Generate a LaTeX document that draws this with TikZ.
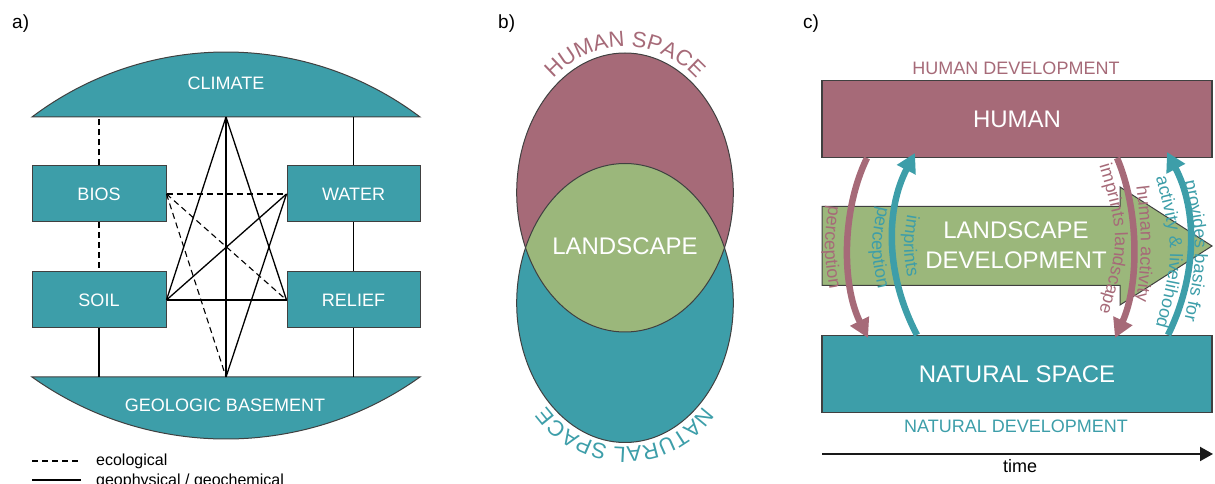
\documentclass[tikz,border=0pt]{standalone}
\usepackage{fontspec}
\setmainfont{Liberation Sans}
\usetikzlibrary{arrows.meta,decorations.text}
\definecolor{teal1}{RGB}{61,158,169}
\definecolor{mauve}{RGB}{166,106,120}
\definecolor{lgreen}{RGB}{155,183,123}
\definecolor{edge}{RGB}{64,64,64}
\newcommand\myfs[1]{\fontsize{#1}{#1}\selectfont}
\begin{document}
\begin{tikzpicture}[x=1pt,y=1pt,
  abox/.style={draw=edge, line width=1pt, fill=teal1, minimum width=134pt, minimum height=56pt, inner sep=0pt, text=white, font=\myfs{18}},
  wtext/.style={text=white, font=\myfs{18}, inner sep=0pt},
  geoline/.style={line width=1.3pt, black},
  ecoline/.style={line width=1.1pt, black, dash pattern=on 6pt off 4pt},
  bigbox/.style={draw=edge, line width=1.2pt, minimum width=390pt, minimum height=77pt, inner sep=0pt, text=white, font=\myfs{24}},
  plabel/.style={anchor=base west, inner sep=0pt, font=\myfs{19}},
  curvarrow/.style={line width=6.5pt, -{Triangle[width=20pt,length=19pt]}},
  ell/.style={x radius=108.3, y radius=139.5}
]
\useasboundingbox (0,0) rectangle (1215,484);
\clip (0,0) rectangle (1215,484);

% ---------- panel labels
\node[plabel] (la) at (12,455.5) {a)};
\node[plabel] (lb) at (498,455.5) {b)};
\node[plabel] (lc) at (803,455.5) {c)};

% ---------- panel a
\path[fill=teal1, draw=edge, line width=1pt] (32,367) arc[start angle=127.05, end angle=52.95, radius=322] -- cycle;
\node[wtext] (climate) at (226,401) {CLIMATE};
\coordinate (climB) at (226,367);
\path[fill=teal1, draw=edge, line width=1pt] (32,107) arc[start angle=234.55, end angle=305.45, radius=334.5] -- cycle;
\node[wtext] (geo) at (225,78.5) {GEOLOGIC BASEMENT};
\coordinate (geoT) at (226,107);

\node[abox] (bios) at (99,290) {BIOS};
\node[abox, minimum width=133pt] (water) at (353.5,290) {WATER};
\node[abox] (soil) at (99,184) {SOIL};
\node[abox, minimum width=133pt] (relief) at (353.5,184) {RELIEF};

\draw[ecoline] (bios.north) -- (bios.north |- climB);
\draw[ecoline] (bios.south) -- (soil.north);
\draw[geoline] (soil.south) -- (soil.south |- geoT);
\draw[geoline] (water.north) -- (water.north |- climB);
\draw[geoline] (water.south) -- (relief.north);
\draw[geoline] (relief.south) -- (relief.south |- geoT);

\draw[geoline] (climB) -- (geoT);
\draw[geoline] (climB) -- (soil.east);
\draw[geoline] (climB) -- (relief.west);
\draw[geoline] (water.west) -- (soil.east);
\draw[geoline] (water.west) -- (geoT);
\draw[geoline] (soil.east) -- (relief.west);
\draw[ecoline] (bios.east) -- (water.west);
\draw[ecoline] (bios.east) -- (relief.west);
\draw[ecoline] (bios.east) -- (geoT);

% legend
\coordinate (l1a) at (32,23); \coordinate (l1b) at (81,23);
\coordinate (l2a) at (32,4); \coordinate (l2b) at (81,4);
\draw[ecoline] (l1a) -- (l1b);
\draw[geoline] (l2a) -- (l2b);
\node[anchor=base west, inner sep=0pt, font=\myfs{16}] (legeco) at (96,18) {ecological};
\node[anchor=base west, inner sep=0pt, font=\myfs{16}] (leggeo) at (96,-1.5) {geophysical / geochemical};

% ---------- panel b
\fill[mauve] (625,291.5) ellipse[ell];
\fill[teal1] (625,181) ellipse[ell];
\begin{scope}
  \clip (625,181) ellipse[ell];
  \fill[lgreen] (625,291.5) ellipse[ell];
\end{scope}
\draw[edge, line width=1pt] (625,291.5) ellipse[ell];
\draw[edge, line width=1pt] (625,181) ellipse[ell];
\node[wtext, font=\myfs{24}] (landscape) at (625,238) {LANDSCAPE};
\path[decorate, decoration={text along path, text align=center,
  text={|\fontsize{22}{22}\selectfont\color{mauve}|HUMAN SPACE}}]
  (625,342) ++(170:95) arc[start angle=170, end angle=10, radius=95];
\path[decorate, decoration={text along path, text align=center,
  text={|\fontsize{22}{22}\selectfont\color{teal1}|NATURAL SPACE}}]
  (625,132) ++(-10:95) arc[start angle=-10, end angle=-170, radius=95];

% ---------- panel c
\node[bigbox, fill=mauve] (human) at (1017,364.7) {HUMAN};
\node[bigbox, fill=teal1] (natural) at (1017,110) {NATURAL SPACE};
\node[text=mauve, font=\myfs{18}, inner sep=0pt] (humdev) at (1016,416) {HUMAN DEVELOPMENT};
\node[text=teal1, font=\myfs{18}, inner sep=0pt] (natdev) at (1016,57.5) {NATURAL DEVELOPMENT};

\path[fill=lgreen, draw=edge, line width=1pt]
  (822,198.5) -- (1120,198.5) -- (1120,179) -- (1212,238) -- (1120,297) -- (1120,277.5) -- (822,277.5) -- cycle;
\node[text=white, font=\fontsize{24}{30}\selectfont, align=center, inner sep=0pt] (landdev) at (1016,238.5) {LANDSCAPE\\DEVELOPMENT};

% time axis
\coordinate (t0) at (822,30); \coordinate (t1) at (1213,30);
\draw[line width=2pt, black!90, -{Triangle[width=14pt,length=13pt]}] (t0) -- (t1);
\node[anchor=base, inner sep=0pt, font=\myfs{18}] (time) at (1020,11) {time};

% curved arrows
\coordinate (m1s) at (867,326); \coordinate (m1e) at (868,146);
\coordinate (t1s) at (917,149); \coordinate (t1e) at (915,331);
\coordinate (m2s) at (1117,326); \coordinate (m2e) at (1115,146);
\coordinate (t2s) at (1168,149); \coordinate (t2e) at (1167,332);
\draw[curvarrow, mauve] (m1s) .. controls (841.5,274) and (841.5,199) .. (m1e);
\draw[curvarrow, teal1] (t1s) .. controls (885.3,209) and (885.3,274) .. (t1e);
\draw[curvarrow, mauve] (m2s) .. controls (1139.3,274) and (1139.3,199) .. (m2e);
\draw[curvarrow, teal1] (t2s) .. controls (1197.5,209) and (1197.5,274) .. (t2e);

% labels of curved arrows
\path[decorate, decoration={text along path, text align=center,
  text={|\fontsize{18}{18}\selectfont\color{mauve}|perception}}]
  (831,294) .. controls (822.8,237) .. (832,179);
\path[decorate, decoration={text along path, text align=center,
  text={|\fontsize{18}{18}\selectfont\color{teal1}|perception}}]
  (882,294) .. controls (868.7,237) .. (882,179);
\path[decorate, decoration={text along path, text align=center,
  text={|\fontsize{18}{18}\selectfont\color{teal1}|imprints}}]
  (910,284) .. controls (902,238) .. (910,192);
\path[decorate, decoration={text along path, text align=center,
  text={|\fontsize{18}{18}\selectfont\color{mauve}|imprints landscape}}]
  (1096,329) .. controls (1121.3,245) .. (1096,161);
\path[decorate, decoration={text along path, text align=center,
  text={|\fontsize{18}{18}\selectfont\color{mauve}|human activity}}]
  (1134.4,314) .. controls (1143.2,240) .. (1134.4,166);
\path[decorate, decoration={text along path, text align=center,
  text={|\fontsize{18}{18}\selectfont\color{teal1}|provides basis for}}]
  (1182,314) .. controls (1199.3,233) .. (1182,152);
\path[decorate, decoration={text along path, text align=center,
  text={|\fontsize{18}{18}\selectfont\color{teal1}|activity {\&} livelihood}}]
  (1154,314) .. controls (1175.3,232) .. (1154,150);
\end{tikzpicture}
\end{document}
